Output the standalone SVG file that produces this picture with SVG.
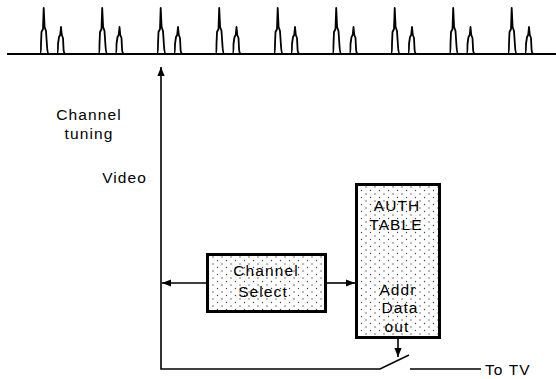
<svg xmlns="http://www.w3.org/2000/svg" xmlns:xlink="http://www.w3.org/1999/xlink" width="556" height="379" viewBox="0 0 556 379">
<style>
.wave{fill:none;stroke:#000;stroke-width:1.8;stroke-linejoin:round}
.conn{fill:none;stroke:#000;stroke-width:1.6}
.box{fill:url(#stipple);stroke:#000;stroke-width:3}
.t{font-family:"Liberation Sans",Arial,sans-serif;font-size:15.5px;fill:#000;letter-spacing:1.1px}
.c{text-anchor:middle}
</style>
<defs>
<pattern id="stipple" width="9" height="7" patternUnits="userSpaceOnUse">
<rect width="9" height="7" fill="#fff"/>
<circle cx="1.5" cy="1.5" r="0.7" fill="#444"/>
<circle cx="6" cy="5" r="0.7" fill="#444"/>
</pattern>
<marker id="ah" viewBox="0 0 10 10" refX="10" refY="5" markerWidth="10" markerHeight="9" markerUnits="userSpaceOnUse" orient="auto">
<path d="M0,1 L10,5 L0,9 Z" fill="#000"/>
</marker>
<path id="pulse" class="wave" d="M-4,54 Q-3,54 -3,44 L-2.5,32 L-1,29 L-0.3,8 L0.6,27 L2,31 L3,46 Q3.5,54 5,54 M13,54 Q14,54 14,44 L15,37 L16.2,35 L17,27 L17.8,35 L19,38 L19.6,50 Q20,54 21.5,54"/>
</defs>
<g id="waveform">
<line class="wave" x1="7" y1="54" x2="556" y2="54"/>
<use xlink:href="#pulse" x="44"/>
<use xlink:href="#pulse" x="102.5"/>
<use xlink:href="#pulse" x="161"/>
<use xlink:href="#pulse" x="219.5"/>
<use xlink:href="#pulse" x="278"/>
<use xlink:href="#pulse" x="336.5"/>
<use xlink:href="#pulse" x="395"/>
<use xlink:href="#pulse" x="453.5"/>
<use xlink:href="#pulse" x="512"/>
</g>
<g id="connectors">
<path class="conn" d="M409,355 L380,369 L161,369 L161,67" marker-end="url(#ah)"/>
<path class="conn" d="M410,369 L481,369"/>
<path class="conn" d="M206,283 L162,283" marker-end="url(#ah)"/>
<path class="conn" d="M327,283 L355,283" marker-end="url(#ah)"/>
<path class="conn" d="M398,339 L398,357" marker-end="url(#ah)"/>
</g>
<g id="labels">
<text class="t c" x="89" y="120">Channel</text>
<text class="t c" x="89" y="139">tuning</text>
<text class="t" x="147" y="183" text-anchor="end">Video</text>
<text class="t" x="485" y="375">To TV</text>
</g>
<g id="channel-select">
<rect class="box" x="207.5" y="254.5" width="118" height="57"/>
<text class="t c" x="266" y="276">Channel</text>
<text class="t c" x="263" y="297">Select</text>
</g>
<g id="auth-table">
<rect class="box" x="356.5" y="184.5" width="83" height="153"/>
<text class="t c" x="397" y="211">AUTH</text>
<text class="t c" x="396" y="230">TABLE</text>
<text class="t c" x="398" y="295">Addr</text>
<text class="t c" x="400" y="313">Data</text>
<text class="t c" x="397" y="332">out</text>
</g>
</svg>
